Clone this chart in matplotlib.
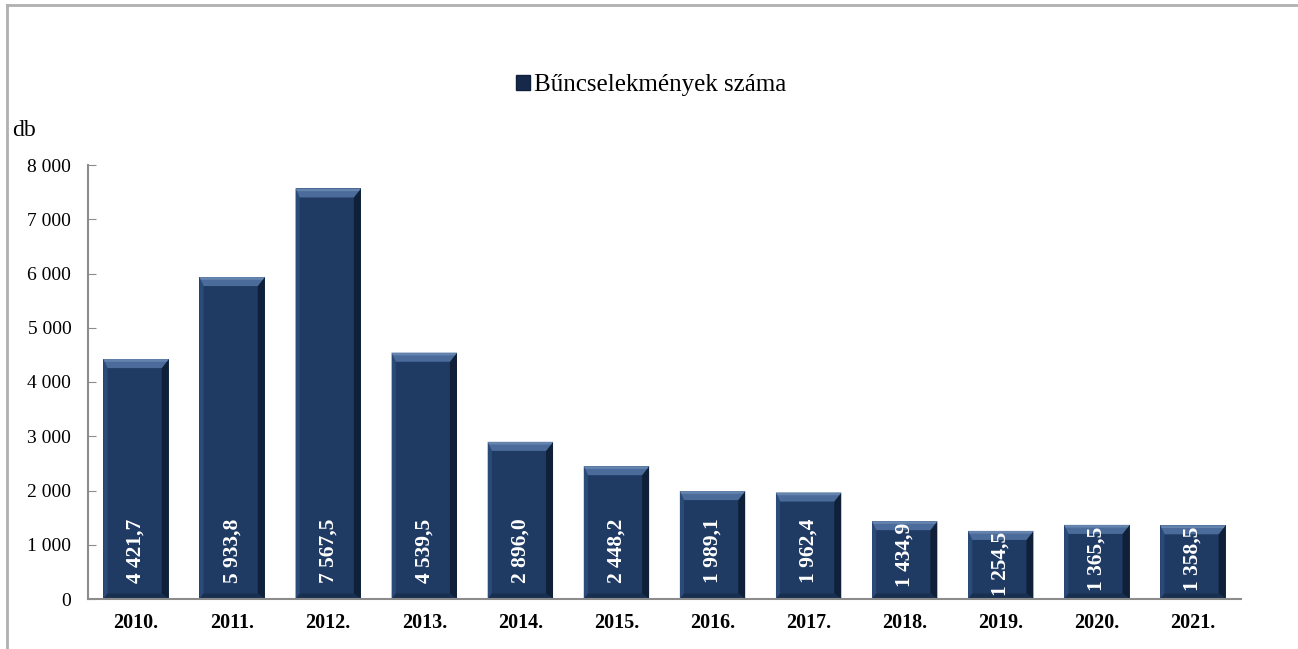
import matplotlib
matplotlib.use("Agg")
import matplotlib.pyplot as plt
from matplotlib.patches import Polygon, Patch
from matplotlib.ticker import FuncFormatter

years = ["2010.", "2011.", "2012.", "2013.", "2014.", "2015.", "2016.",
         "2017.", "2018.", "2019.", "2020.", "2021."]
values = [4421.7, 5933.8, 7567.5, 4539.5, 2896.0, 2448.2, 1989.1,
          1962.4, 1434.9, 1254.5, 1365.5, 1358.5]
series_name = "Bűncselekmények száma"
y_ticks = [0, 1000, 2000, 3000, 4000, 5000, 6000, 7000, 8000]

SERIF = ["Liberation Serif", "DejaVu Serif"]
plt.rcParams["font.family"] = SERIF

W, H = 1298, 649
fig = plt.figure(figsize=(W / 100, H / 100), dpi=100)
ax = fig.add_axes([88 / W, 1 - 599 / H, (1241 - 88) / W, (599 - 165) / H])

base = "#1f3a63"
bw = 0.68
x = list(range(len(values)))
bars = ax.bar(x, values, width=bw, color=base, edgecolor="none", zorder=2)

ax.set_xlim(-0.5, len(values) - 0.5)
ax.set_ylim(0, 8000)

# bevel effect computed from bar geometry
px_x = (len(values)) / (1241 - 88)
px_y = 8000 / (599 - 165)
b = 7 * px_x
bh = 9 * px_y
for rect in bars:
    x0 = rect.get_x()
    x1 = x0 + rect.get_width()
    top = rect.get_height()
    bot = 0
    ax.add_patch(Polygon([(x1, top), (x1, bot), (x1 - b, bot + bh * 0.6), (x1 - b, top - bh)],
                         closed=True, facecolor="#0c1a2e", edgecolor="none", zorder=3, alpha=0.8))
    ax.add_patch(Polygon([(x0, top), (x0, bot), (x0 + b * 0.6, bot + bh * 0.6), (x0 + b * 0.6, top - bh)],
                         closed=True, facecolor="#2a4a78", edgecolor="none", zorder=3))
    ax.add_patch(Polygon([(x0, bot), (x1, bot), (x1 - b, bot + bh * 0.6), (x0 + b * 0.6, bot + bh * 0.6)],
                         closed=True, facecolor="#18304f", edgecolor="none", zorder=3))
    ax.add_patch(Polygon([(x0, top), (x1, top), (x1 - b, top - bh), (x0 + b * 0.6, top - bh)],
                         closed=True, facecolor="#4b6c9a", edgecolor="none", zorder=4))
    ax.add_patch(Polygon([(x0, top), (x1, top), (x1 - b * 0.3, top - bh * 0.3), (x0 + b * 0.2, top - bh * 0.3)],
                         closed=True, facecolor="#6f8db6", edgecolor="none", zorder=4, alpha=0.7))

def fmt_val(v):
    return f"{v:,.1f}".replace(",", " ").replace(".", ",")

label_px = 68
base_off_px = 16
for xi, v in zip(x, values):
    bar_px = v / px_y
    if bar_px >= label_px + base_off_px:
        ax.annotate(fmt_val(v), xy=(xi, 0), xytext=(0, base_off_px * 0.72), textcoords="offset points",
                    rotation=90, ha="center", va="bottom", color="white",
                    fontsize=15.5, fontweight="bold", zorder=5)
    else:
        ax.annotate(fmt_val(v), xy=(xi, v), xytext=(0, -1), textcoords="offset points",
                    rotation=90, ha="center", va="top", color="white",
                    fontsize=15.5, fontweight="bold", zorder=5, annotation_clip=False)

ax.set_yticks(y_ticks)
ax.yaxis.set_major_formatter(FuncFormatter(lambda v, p: f"{int(v):,}".replace(",", " ")))
ax.set_xticks(x)
ax.set_xticklabels(years, fontweight="bold")
ax.tick_params(axis="y", direction="in", length=6, color="#8c8c8c", labelsize=14, pad=12)
ax.tick_params(axis="x", length=0, labelsize=14.5, pad=10)

for s in ["top", "right"]:
    ax.spines[s].set_visible(False)
for s in ["left", "bottom"]:
    ax.spines[s].set_color("#8c8c8c")
    ax.spines[s].set_linewidth(1.5)
    ax.spines[s].set_zorder(6)

fig.text(12 / W, 1 - 130 / H, "db", fontsize=17, ha="left", va="center")

handle = Patch(facecolor="#16294a", edgecolor="#10203a")
fig.legend([handle], [series_name], loc="center", bbox_to_anchor=(0.5015, 1 - 85 / H),
           frameon=False, fontsize=18, handlelength=0.55, handleheight=0.55,
           handletextpad=0.15)

fig.add_artist(plt.Line2D([7 / W, 1], [1 - 5 / H, 1 - 5 / H], transform=fig.transFigure,
                          color="#b0b0b0", linewidth=2))
fig.add_artist(plt.Line2D([7 / W, 7 / W], [0, 1 - 5 / H], transform=fig.transFigure,
                          color="#b0b0b0", linewidth=2))

fig.savefig("out.png", dpi=100)
